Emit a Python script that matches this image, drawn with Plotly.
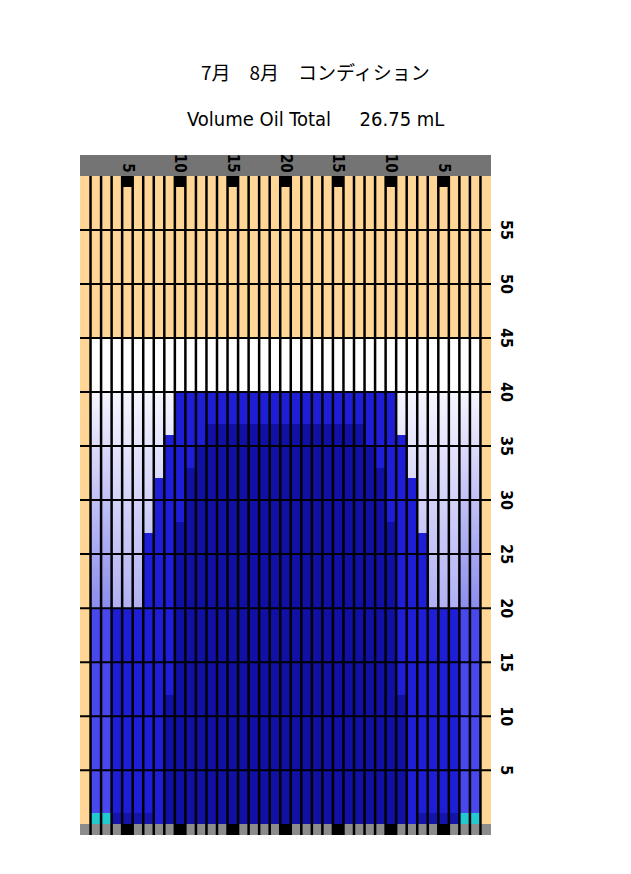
import numpy as np
import plotly.graph_objects as go

# ---------------- data ----------------
columns = list(range(1, 40))                      # tube positions across the plate
top_tick_cols = [5, 10, 15, 20, 25, 30, 35]
top_tick_text = ["5", "10", "15", "20", "15", "10", "5"]
depth_ticks = [5, 10, 15, 20, 25, 30, 35, 40, 45, 50, 55]
edge_cols = [1, 39]                               # frame columns (always background)
inner_cols = list(range(2, 39))
# top of the oil (blue) column, cols 2..38
oil_level = [20, 20, 20, 20, 20, 27, 32, 36] + [40] * 21 + [36, 32, 27, 20, 20, 20, 20, 20]
# top of the dense (dark) core, cols 2..38 (0 = none)
core_level = [0, 0, 0, 0, 0, 0, 0, 12, 28, 33, 35] + [37] * 15 + [35, 33, 28, 12, 0, 0, 0, 0, 0, 0, 0]
pale_cols = [2, 3, 37, 38]
cyan_cols = [2, 3, 37, 38]
bottom_dark_cols = [4, 5, 6, 7, 33, 34, 35, 36]
cyan_height = 1
gas_top = 40          # top of tinted zone
white_top = 45        # top of white zone
plate_top = 60
mark_height = 1
base_band = -1
title_jp = "7月\u30008月\u3000コンディション"
volume_total = "26.75"

# ---------------- colour codes ----------------
Z_Y, Z_W, Z_LB, Z_MB, Z_DB, Z_DB2, Z_CY, Z_GR, Z_BK = 0, 1, 50, 60, 70, 75, 80, 90, 100
YEL = "#FFD696"
colorscale = [
    [0.0, YEL], [0.005, YEL],
    [0.005, "#FFFFFF"], [0.015, "#FFFFFF"],
    [0.015, "#F7F7FF"], [0.40, "#8C8CEE"],
    [0.40, "#4848EE"], [0.55, "#4848EE"],
    [0.55, "#1E1ED6"], [0.65, "#1E1ED6"],
    [0.65, "#1010A4"], [0.725, "#1010A4"],
    [0.725, "#1414AA"], [0.775, "#1414AA"],
    [0.775, "#22CACF"], [0.85, "#22CACF"],
    [0.85, "#8C8C8C"], [0.95, "#8C8C8C"],
    [0.95, "#000000"], [1.0, "#000000"],
]

step = 0.25
y_centers = np.arange(base_band + step / 2, plate_top, step)
oil_of = dict(zip(inner_cols, oil_level))
core_of = dict(zip(inner_cols, core_level))

z = np.zeros((len(y_centers), len(columns)))
for j, c in enumerate(columns):
    for i, yc in enumerate(y_centers):
        if yc < 0:
            v = Z_BK if c in top_tick_cols else Z_GR
        elif c in edge_cols:
            v = Z_Y
        elif yc > plate_top - mark_height and c in top_tick_cols:
            v = Z_BK
        elif yc > white_top:
            v = Z_Y
        elif yc > gas_top:
            v = Z_W
        elif yc > oil_of[c]:
            k = 38 if c in pale_cols else 25
            v = 2 + k * (gas_top - yc) / 20.0
        else:
            if yc < cyan_height and c in cyan_cols:
                v = Z_CY
            elif yc < cyan_height and c in bottom_dark_cols:
                v = Z_DB2
            elif c in pale_cols:
                v = Z_LB
            elif yc < core_of[c]:
                v = Z_DB
            else:
                v = Z_MB
        z[i, j] = v

fig = go.Figure()
fig.add_trace(go.Heatmap(
    x=columns, y=y_centers, z=z, zmin=0, zmax=100,
    colorscale=colorscale, showscale=False, hoverinfo="skip",
))

# column separators
vx, vy = [], []
for c in columns[:-1]:
    vx += [c + 0.5, c + 0.5, None]
    vy += [base_band, plate_top, None]
fig.add_trace(go.Scatter(x=vx, y=vy, mode="lines", line=dict(color="#000000", width=2.5),
                         hoverinfo="skip", showlegend=False))
# depth lines
hx, hy = [], []
for t in depth_ticks:
    hx += [columns[0] - 0.5, columns[-1] + 0.5, None]
    hy += [t, t, None]
fig.add_trace(go.Scatter(x=hx, y=hy, mode="lines", line=dict(color="#000000", width=2),
                         hoverinfo="skip", showlegend=False))

SANS = "Liberation Sans Narrow, DejaVu Sans Condensed, Liberation Sans, Arial, sans-serif"
fig.update_xaxes(range=[columns[0] - 0.5, columns[-1] + 0.5], side="top",
                 tickvals=top_tick_cols, ticktext=top_tick_text, tickangle=90,
                 showgrid=False, zeroline=False, ticks="",
                 tickfont=dict(family=SANS, size=15, color="#000000", weight="bold"),
                 showline=False, fixedrange=True)
fig.update_yaxes(range=[base_band, plate_top], side="right",
                 showticklabels=False, showgrid=False, zeroline=False, ticks="",
                 showline=False, fixedrange=True)

W, H = 623, 866
ml, mr, mt, mb = 72, 140, 168, 39
pw, ph = W - ml - mr, H - mt - mb

annotations = [
    dict(text=title_jp, xref="paper", yref="paper", x=(315 - 80) / pw,
         y=1 + 104 / ph, showarrow=False, xanchor="center", yanchor="middle",
         font=dict(family="Noto Sans CJK JP", size=19, color="#000000")),
    dict(text="Volume Oil Total\u00a0\u00a0\u00a0\u00a0\u00a0" + volume_total + " mL",
         xref="paper", yref="paper", x=(315 - 80) / pw,
         y=1 + 57 / ph, showarrow=False, xanchor="center", yanchor="middle",
         font=dict(family=SANS, size=20, color="#000000")),
]
# depth scale labels (rotated, right of the plate)
for t in depth_ticks:
    annotations.append(dict(text=str(t), xref="paper", yref="y", x=1 + 16 / pw, y=t,
                            showarrow=False, textangle=90, xanchor="center", yanchor="middle",
                            font=dict(family=SANS, size=16, color="#000000", weight="bold")))

fig.update_layout(
    width=W, height=H, margin=dict(l=ml, r=mr, t=mt, b=mb, pad=0),
    paper_bgcolor="#FFFFFF", plot_bgcolor="#8C8C8C",
    showlegend=False,
    shapes=[dict(type="rect", xref="paper", yref="paper", x0=0, x1=1,
                 y0=1, y1=1 + 21 / ph, fillcolor="#747474", line=dict(width=0), layer="below")],
    annotations=annotations,
)

fig.write_html("out.html")
